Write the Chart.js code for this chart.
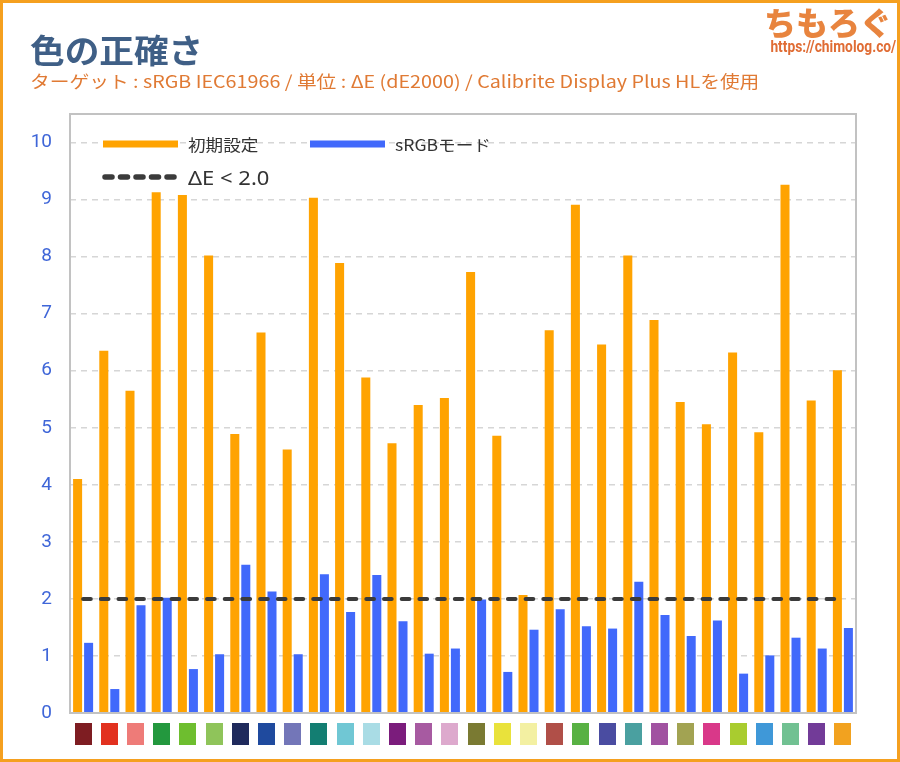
<!DOCTYPE html>
<html lang="ja">
<head>
<meta charset="utf-8">
<title>色の正確さ</title>
<script src="https://cdn.jsdelivr.net/npm/chart.js@4.4.1/dist/chart.umd.min.js"></script>
<style>
  html, body { margin: 0; padding: 0; background: #fff; }
  #frame {
    position: relative;
    width: 900px;
    height: 762px;
    box-sizing: border-box;
    border: 3px solid #f5a01f;
    overflow: hidden;
    font-family: 'Noto Sans CJK JP', 'Noto Sans', sans-serif;
  }
  #chart { position: absolute; left: -3px; top: -3px; }
  .title {
    position: absolute; left: 27px; top: 30px;
    font-size: 33px; font-weight: 700; line-height: 1;
    color: #3f5f86; transform: scaleX(1.05); transform-origin: left top;
    white-space: nowrap;
  }
  .subtitle {
    position: absolute; left: 27px; top: 69px;
    font-size: 17px; line-height: 1; color: #e07a34;
    transform: scaleX(1.16); transform-origin: left top; white-space: nowrap;
  }
  .logo {
    position: absolute; left: 758px; top: 2px; width: 134px; text-align: center;
    color: #e8843e; line-height: 1;
  }
  .logo .name { font-size: 32px; font-weight: 900; }
  .logo .url {
    font-family: 'Roboto', sans-serif; white-space: nowrap;
    font-size: 16px; font-weight: 700; color: #e06c34; margin-top: 2px;
    transform: scaleX(0.86); transform-origin: center top;
  }
</style>
</head>
<body>
<div id="frame">
  <canvas id="chart" width="900" height="762"></canvas>
  <div class="title">色の正確さ</div>
  <div class="subtitle">ターゲット : sRGB IEC61966 / 単位 : ΔE (dE2000) / Calibrite Display Plus HLを使用</div>
  <div class="logo"><div class="name">ちもろぐ</div><div class="url">https://chimolog.co/</div></div>
</div>
<script>
// ColorChecker patches (swatch colours under the axis)
const patchColors = [
  '#7e1d22', '#e2311f', '#ee7b78', '#23983e', '#6ebe2f', '#8fc45a',
  '#1f2a5c', '#1f4a9e', '#7376b8', '#137e72', '#70c7d4', '#a9dce5',
  '#7b1c7c', '#a75aa1', '#dda9cd', '#7a7a32', '#e9e23b', '#f3f0a2',
  '#b04f48', '#58b143', '#4a4ca1', '#4aa0a0', '#a152a1', '#a2a352',
  '#d93889', '#a9cc2f', '#3f98d8', '#71c192', '#723b98', '#f2a21f'
];
const labels = ['1', '2', '3', '4', '5', '6', '7', '8', '9', '10',
  '11', '12', '13', '14', '15', '16', '17', '18', '19', '20',
  '21', '22', '23', '24', '25', '26', '27', '28', '29', '30'];

// ΔE per patch
const defaultValues = [4.10, 6.35, 5.65, 9.13, 9.08, 8.02, 4.89, 6.67, 4.62, 9.03,
  7.89, 5.88, 4.73, 5.40, 5.52, 7.73, 4.86, 2.07, 6.71, 8.91,
  6.46, 8.02, 6.89, 5.45, 5.06, 6.32, 4.92, 9.26, 5.48, 6.01];
const srgbValues = [1.23, 0.42, 1.89, 2.02, 0.77, 1.03, 2.60, 2.13, 1.03, 2.43,
  1.77, 2.42, 1.61, 1.04, 1.13, 1.99, 0.72, 1.46, 1.82, 1.52,
  1.48, 2.30, 1.72, 1.35, 1.62, 0.69, 1.01, 1.32, 1.13, 1.49];
const thresholdValues = [2, 2, 2, 2, 2, 2, 2, 2, 2, 2,
  2, 2, 2, 2, 2, 2, 2, 2, 2, 2,
  2, 2, 2, 2, 2, 2, 2, 2, 2, 2];
const yTicks = [0, 1, 2, 3, 4, 5, 6, 7, 8, 9, 10];

const ORANGE = '#ffa301';
const BLUE = '#4169fb';
const DARK = '#3b3b3b';

/* plot frame + colour swatches + legend, drawn on the canvas */
const decorPlugin = {
  id: 'decor',
  afterDraw(chart) {
    const { ctx, chartArea: a, scales } = chart;
    ctx.save();

    // frame round the plot
    ctx.strokeStyle = '#c2c2c2';
    ctx.lineWidth = 2;
    ctx.strokeRect(a.left, a.top, a.right - a.left, a.bottom - a.top);

    // swatches
    patchColors.forEach((c, i) => {
      const x = scales.x.getPixelForValue(i);
      ctx.fillStyle = c;
      ctx.fillRect(Math.round(x - 8.5), a.bottom + 10, 17, 22);
    });

    // legend
    const items = [
      { ds: chart.data.datasets[0], x: a.left + 33, y: a.top + 30 },
      { ds: chart.data.datasets[1], x: a.left + 240, y: a.top + 30 },
      { ds: chart.data.datasets[2], x: a.left + 33, y: a.top + 64 }
    ];
    ctx.textBaseline = 'middle';
    items.forEach(({ ds, x, y }) => {
      ctx.beginPath();
      ctx.font = '16px "Noto Sans CJK JP", "Noto Sans", sans-serif';
      if (ds.type === 'line') {
        ctx.strokeStyle = ds.borderColor;
        ctx.lineWidth = 5.5;
        ctx.lineCap = 'round';
        ctx.setLineDash([7, 8.5]);
        ctx.moveTo(x + 2, y - 1);
        ctx.lineTo(x + 73, y - 1);
        ctx.stroke();
        ctx.setLineDash([]);
        ctx.font = '20px "Noto Sans", sans-serif';
      } else {
        ctx.fillStyle = ds.backgroundColor;
        ctx.fillRect(x, y - 3.5, 75, 7);
      }
      ctx.save();
      ctx.translate(x + 85, y + 1);
      ctx.scale(1.1, 1);
      ctx.fillStyle = '#333';
      ctx.fillText(ds.label, 0, 0);
      ctx.restore();
    });
    ctx.restore();
  }
};

new Chart(document.getElementById('chart'), {
  type: 'bar',
  data: {
    labels,
    datasets: [
      {
        label: '初期設定',
        data: defaultValues,
        backgroundColor: ORANGE,
        categoryPercentage: 0.84,
        barPercentage: 0.82,
        order: 2
      },
      {
        label: 'sRGBモード',
        data: srgbValues,
        backgroundColor: BLUE,
        categoryPercentage: 0.84,
        barPercentage: 0.82,
        order: 2
      },
      {
        type: 'line',
        label: 'ΔE < 2.0',
        data: thresholdValues,
        borderColor: DARK,
        borderWidth: 4,
        borderCapStyle: 'round',
        borderDash: [7.7, 10],
        pointRadius: 0,
        fill: false,
        order: 1
      }
    ]
  },
  options: {
    responsive: false,
    animation: false,
    layout: { padding: { left: 30, right: 44, top: 114, bottom: 49 } },
    plugins: {
      legend: { display: false },
      tooltip: { enabled: false }
    },
    scales: {
      x: {
        display: false,
        offset: true
      },
      y: {
        min: 0,
        max: 10.5,
        afterFit: (s) => { s.width = 40; },
        afterBuildTicks: (s) => { s.ticks = yTicks.map((v) => ({ value: v })); },
        grid: { color: '#d6d6d6', lineWidth: 1.5, drawTicks: false },
        border: { display: false, dash: [6, 5] },
        ticks: {
          padding: 18,
          color: '#3f66d8',
          font: { family: 'Roboto, sans-serif', size: 19 }
        }
      }
    }
  },
  plugins: [decorPlugin]
});
</script>
</body>
</html>
